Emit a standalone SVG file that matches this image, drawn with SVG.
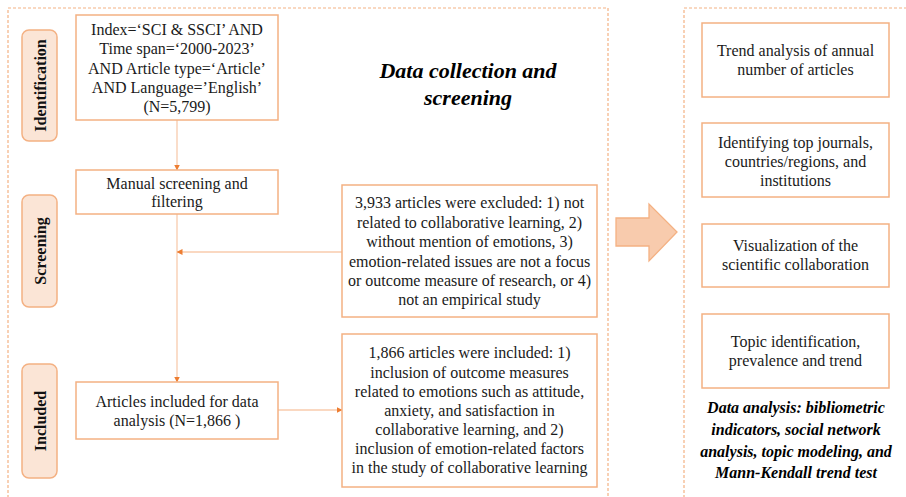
<svg xmlns="http://www.w3.org/2000/svg" width="906" height="497" viewBox="0 0 906 497">
  <defs>
    <style>
      .frame { fill: none; stroke: #F4B183; stroke-width: 1.2; stroke-dasharray: 3 2; }
      .box { fill: #FFFFFF; stroke: #F4B183; stroke-width: 1.5; }
      .stage { fill: #FBE5D6; stroke: #F4B183; stroke-width: 1.5; }
      .txt { font-family: "Liberation Serif", "Times New Roman", serif; font-size: 16px; fill: #1a1a1a; text-anchor: middle; }
      .stage-txt { font-family: "Liberation Serif", "Times New Roman", serif; font-size: 16px; font-weight: bold; fill: #111; text-anchor: middle; }
      .title { font-family: "Liberation Serif", "Times New Roman", serif; font-weight: bold; font-style: italic; fill: #000; text-anchor: middle; }
      .conn { fill: none; stroke: #F8CBAD; stroke-width: 1.3; }
    </style>
    <marker id="arrow" viewBox="0 0 6 6" refX="5.5" refY="3" markerWidth="6" markerHeight="6" markerUnits="userSpaceOnUse" orient="auto">
      <path d="M0,0 L6,3 L0,6 Z" fill="#ED7D31"/>
    </marker>
  </defs>

  <rect width="906" height="497" fill="#FFFFFF"/>

  <!-- dashed section frames -->
  <rect class="frame" x="8" y="8" width="600" height="500"/>
  <rect class="frame" x="684" y="8" width="240" height="500"/>

  <!-- stage labels -->
  <g id="stage-identification">
    <rect class="stage" x="22" y="30" width="35" height="111" rx="7"/>
    <text class="stage-txt" transform="translate(45.5,85.5) rotate(-90)">Identification</text>
  </g>
  <g id="stage-screening">
    <rect class="stage" x="22" y="195" width="35" height="112" rx="7"/>
    <text class="stage-txt" transform="translate(45.5,251) rotate(-90)">Screening</text>
  </g>
  <g id="stage-included">
    <rect class="stage" x="22" y="364" width="35" height="114" rx="7"/>
    <text class="stage-txt" transform="translate(45.5,421) rotate(-90)">Included</text>
  </g>

  <!-- section title -->
  <g id="title-collection">
    <text class="title" font-size="22" x="468" y="78">Data collection and</text>
    <text class="title" font-size="22" x="468" y="105">screening</text>
  </g>

  <!-- connectors -->
  <g id="connectors">
    <line class="conn" x1="177" y1="120" x2="177" y2="170" marker-end="url(#arrow)"/>
    <line class="conn" x1="177" y1="214" x2="177" y2="382" marker-end="url(#arrow)"/>
    <line class="conn" x1="342" y1="252" x2="177" y2="252" marker-end="url(#arrow)"/>
    <line class="conn" x1="278" y1="410" x2="342" y2="410" marker-end="url(#arrow)"/>
  </g>

  <!-- search query -->
  <g id="node-search">
    <rect class="box" x="76" y="15" width="202" height="105"/>
    <text class="txt" x="177" y="35">Index=‘SCI &amp; SSCI’ AND</text>
    <text class="txt" x="177" y="54">Time span=‘2000-2023’</text>
    <text class="txt" x="177" y="73.5">AND Article type=‘Article’</text>
    <text class="txt" x="177" y="93">AND Language=’English’</text>
    <text class="txt" x="177" y="112">(N=5,799)</text>
  </g>

  <g id="node-manual">
    <rect class="box" x="76" y="170" width="202" height="44"/>
    <text class="txt" x="177" y="188.5">Manual screening and</text>
    <text class="txt" x="177" y="207">filtering</text>
  </g>

  <g id="node-included">
    <rect class="box" x="76" y="382" width="202" height="57"/>
    <text class="txt" x="177" y="407">Articles included for data</text>
    <text class="txt" x="177" y="426">analysis (N=1,866 )</text>
  </g>

  <g id="node-excluded">
    <rect class="box" x="342" y="185" width="255" height="132"/>
    <text class="txt" x="469.5" y="208">3,933 articles were excluded: 1) not</text>
    <text class="txt" x="469.5" y="227.5">related to collaborative learning, 2)</text>
    <text class="txt" x="469.5" y="247">without mention of emotions, 3)</text>
    <text class="txt" x="469.5" y="266.5">emotion-related issues are not a focus</text>
    <text class="txt" x="469.5" y="286">or outcome measure of research, or 4)</text>
    <text class="txt" x="469.5" y="304.5">not an empirical study</text>
  </g>

  <g id="node-criteria">
    <rect class="box" x="342" y="334" width="255" height="153"/>
    <text class="txt" x="469.5" y="358">1,866 articles were included: 1)</text>
    <text class="txt" x="469.5" y="377.5">inclusion of outcome measures</text>
    <text class="txt" x="469.5" y="397">related to emotions such as attitude,</text>
    <text class="txt" x="469.5" y="416">anxiety, and satisfaction in</text>
    <text class="txt" x="469.5" y="435">collaborative learning, and 2)</text>
    <text class="txt" x="469.5" y="454">inclusion of emotion-related factors</text>
    <text class="txt" x="469.5" y="473">in the study of collaborative learning</text>
  </g>

  <!-- block arrow between sections -->
  <g id="flow-arrow">
    <path d="M616,218 L649,218 L649,204 L677,232 L649,261 L649,246 L616,246 Z" fill="#F8CBAD" stroke="#F4B183" stroke-width="1.3" stroke-linejoin="miter"/>
  </g>

  <!-- analysis boxes -->
  <g id="node-trend">
    <rect class="box" x="702" y="23" width="187" height="74"/>
    <text class="txt" x="795.5" y="56">Trend analysis of annual</text>
    <text class="txt" x="795.5" y="75">number of articles</text>
  </g>

  <g id="node-top">
    <rect class="box" x="702" y="123" width="187" height="74"/>
    <text class="txt" x="795.5" y="148">Identifying top journals,</text>
    <text class="txt" x="795.5" y="167">countries/regions, and</text>
    <text class="txt" x="795.5" y="186">institutions</text>
  </g>

  <g id="node-collab">
    <rect class="box" x="702" y="224" width="187" height="63"/>
    <text class="txt" x="795.5" y="251">Visualization of the</text>
    <text class="txt" x="795.5" y="270">scientific collaboration</text>
  </g>

  <g id="node-topic">
    <rect class="box" x="702" y="314" width="187" height="74"/>
    <text class="txt" x="795.5" y="347">Topic identification,</text>
    <text class="txt" x="795.5" y="366">prevalence and trend</text>
  </g>

  <g id="title-analysis">
    <text class="title" font-size="16" x="796" y="413">Data analysis: bibliometric</text>
    <text class="title" font-size="16" x="796" y="435">indicators, social network</text>
    <text class="title" font-size="16" x="796" y="456.5">analysis, topic modeling, and</text>
    <text class="title" font-size="16" x="796" y="478">Mann-Kendall trend test</text>
  </g>
</svg>
